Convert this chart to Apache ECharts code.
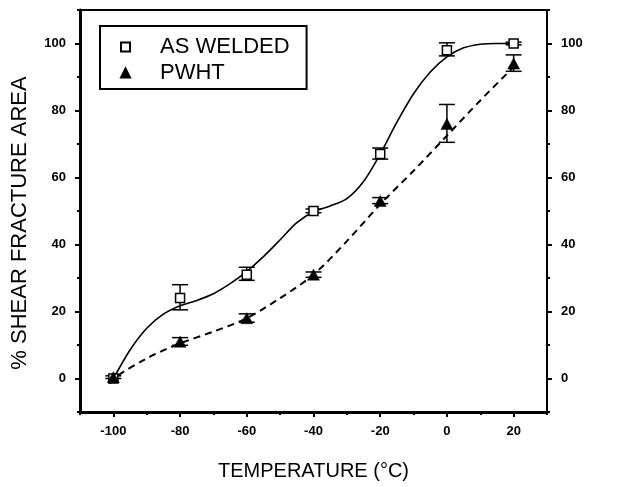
<!DOCTYPE html>
<html>
<head>
<meta charset="utf-8">
<script src="https://cdn.jsdelivr.net/npm/echarts@6/dist/echarts.min.js"></script>
<style>
html,body{margin:0;padding:0;background:#fff;}
#c{width:619px;height:487px;}
</style>
</head>
<body>
<div id="c"></div>
<script>
// ---- data ----
var temps = [-100, -80, -60, -40, -20, 0, 20];
var weldedVals = [0, 24, 31, 50, 67, 98, 100];
var weldedLow = [0, 20.5, 29.3, 49.5, 65.5, 96.3, 99.6];
var weldedHigh = [0, 28, 33.2, 50.6, 68.8, 100.2, 100.4];
var pwhtVals = [0.4, 11, 18, 31, 53, 76, 94];
var pwhtLow = [0, 9.9, 16.8, 30.2, 52.2, 70.5, 91.7];
var pwhtHigh = [0.8, 12.2, 19.3, 31.8, 54, 81.8, 96.6];
// fitted curves
var weldedFitT = [-100.5, -95, -90, -85, -80, -75, -70, -65, -60, -55, -50, -45, -40, -35, -30, -25, -20, -15, -10, -5, 0, 5, 10, 15, 20];
var weldedFitV = [-1, 8.5, 15, 19.2, 21.7, 23.3, 25.3, 28.3, 32, 36.4, 41.4, 46.5, 49.8, 51.5, 53.7, 58.8, 67, 76.5, 85, 91.5, 96, 98.7, 99.8, 100, 100];
var pwhtFitT = [-101, -100, -90, -80, -70, -60, -50, -40, -30, -20, -10, 0, 10, 20];
var pwhtFitV = [-1.5, 0, 6, 10.5, 14, 18, 24, 31, 41, 52, 62, 72.5, 83, 93];
var xTicks = [-100, -80, -60, -40, -20, 0, 20];
var xMinor = [-110, -90, -70, -50, -30, -10, 10, 30];
var yTicks = [0, 20, 40, 60, 80, 100];
var yMinor = [-10, 10, 30, 50, 70, 90, 110];
var xTitle = 'TEMPERATURE (°C)';
var yTitle = '% SHEAR FRACTURE AREA';
var names = ['AS WELDED', 'PWHT'];

function zip(a, b) { return a.map(function (v, i) { return [v, b[i]]; }); }
function zip3(a, b, c) { return a.map(function (v, i) { return [v, b[i], c[i]]; }); }

var FONT = 'Liberation Sans, Arial, sans-serif';
var chart = echarts.init(document.getElementById('c'), null, {renderer: 'canvas'});

function errRender(params, api) {
  var x = api.value(0), lo = api.value(1), hi = api.value(2);
  if (hi - lo < 0.01) return null;
  var a = api.coord([x, lo]), b = api.coord([x, hi]);
  var w = 8;
  var st = {stroke: '#000', lineWidth: 1.5};
  return {type: 'group', children: [
    {type: 'line', shape: {x1: a[0], y1: a[1], x2: b[0], y2: b[1]}, style: st},
    {type: 'line', shape: {x1: a[0] - w, y1: a[1], x2: a[0] + w, y2: a[1]}, style: st},
    {type: 'line', shape: {x1: b[0] - w, y1: b[1], x2: b[0] + w, y2: b[1]}, style: st}
  ]};
}

var baseX = {type: 'value', min: -110, max: 30, splitLine: {show: false}, gridIndex: 0};
var baseY = {type: 'value', min: -10, max: 110, splitLine: {show: false}, gridIndex: 0};
var lblStyle = {color: '#000', fontFamily: FONT, fontWeight: 'bold', fontSize: 13};

var option = {
  animation: false,
  backgroundColor: '#fff',
  grid: {left: 80, right: 72, top: 10, bottom: 75, show: false},
  legend: {
    data: names,
    orient: 'vertical',
    left: 100, top: 26,
    borderColor: '#000', borderWidth: 2, borderRadius: 0,
    padding: [10, 17, 5, 20],
    itemWidth: 9, itemHeight: 9, itemGap: 4,
    selectedMode: false,
    textStyle: {color: '#000', fontFamily: FONT, fontSize: 22, padding: [0, 0, 0, 25]}
  },
  xAxis: [
    Object.assign({}, baseX, {position: 'bottom',
      axisLine: {show: true, onZero: false, lineStyle: {color: '#000', width: 3}},
      axisTick: {show: true, customValues: xTicks, length: 5, lineStyle: {color: '#000', width: 2}},
      axisLabel: Object.assign({customValues: xTicks, margin: 13}, lblStyle),
      name: xTitle, nameLocation: 'middle', nameGap: 49,
      nameTextStyle: {color: '#000', fontFamily: FONT, fontSize: 20}
    }),
    Object.assign({}, baseX, {position: 'bottom',
      axisLine: {show: false, onZero: false},
      axisTick: {show: true, customValues: xMinor, length: 3, lineStyle: {color: '#000', width: 2}},
      axisLabel: {show: false}
    }),
    Object.assign({}, baseX, {position: 'top',
      axisLine: {show: true, onZero: false, lineStyle: {color: '#000', width: 2}},
      axisTick: {show: false}, axisLabel: {show: false}
    })
  ],
  yAxis: [
    Object.assign({}, baseY, {position: 'left',
      axisLine: {show: true, onZero: false, lineStyle: {color: '#000', width: 3}},
      axisTick: {show: true, customValues: yTicks, length: 5, lineStyle: {color: '#000', width: 2}},
      axisLabel: Object.assign({customValues: yTicks, margin: 14}, lblStyle)
    }),
    Object.assign({}, baseY, {position: 'left',
      axisLine: {show: false, onZero: false},
      axisTick: {show: true, customValues: yMinor, length: 3, lineStyle: {color: '#000', width: 2}},
      axisLabel: {show: false}
    }),
    Object.assign({}, baseY, {position: 'right',
      axisLine: {show: true, onZero: false, lineStyle: {color: '#000', width: 2}},
      axisTick: {show: true, customValues: yTicks, length: 5, lineStyle: {color: '#000', width: 2}},
      axisLabel: Object.assign({customValues: yTicks, margin: 14}, lblStyle)
    }),
    Object.assign({}, baseY, {position: 'right',
      axisLine: {show: false, onZero: false},
      axisTick: {show: true, customValues: yMinor, length: 3, lineStyle: {color: '#000', width: 2}},
      axisLabel: {show: false}
    })
  ],
  graphic: [{
    type: 'text', x: 20, y: 223, rotation: Math.PI / 2,
    style: {text: yTitle, fill: '#000', font: '22px ' + FONT, textAlign: 'center', textVerticalAlign: 'middle'}
  }],
  series: [
    {name: 'fit1', type: 'line', data: zip(weldedFitT, weldedFitV), smooth: 0.3, showSymbol: false,
      lineStyle: {color: '#000', width: 1.6}, z: 2, silent: true},
    {name: 'fit2', type: 'line', data: zip(pwhtFitT, pwhtFitV), smooth: 0.3, showSymbol: false,
      lineStyle: {color: '#000', width: 2, type: [7, 5]}, z: 2, silent: true},
    {name: 'err1', type: 'custom', renderItem: errRender, data: zip3(temps, weldedLow, weldedHigh), z: 3, silent: true},
    {name: 'err2', type: 'custom', renderItem: errRender, data: zip3(temps, pwhtLow, pwhtHigh), z: 3, silent: true},
    {name: names[0], type: 'scatter', data: zip(temps, weldedVals), symbol: 'rect', symbolSize: 9,
      itemStyle: {color: '#fff', borderColor: '#000', borderWidth: 1.5, opacity: 1}, z: 4},
    {name: names[1], type: 'scatter', data: zip(temps, pwhtVals), symbol: 'triangle', symbolSize: [12, 11],
      itemStyle: {color: '#000', borderColor: '#000', borderWidth: 0.5, opacity: 1}, z: 5}
  ]
};
chart.setOption(option);
</script>
</body>
</html>
